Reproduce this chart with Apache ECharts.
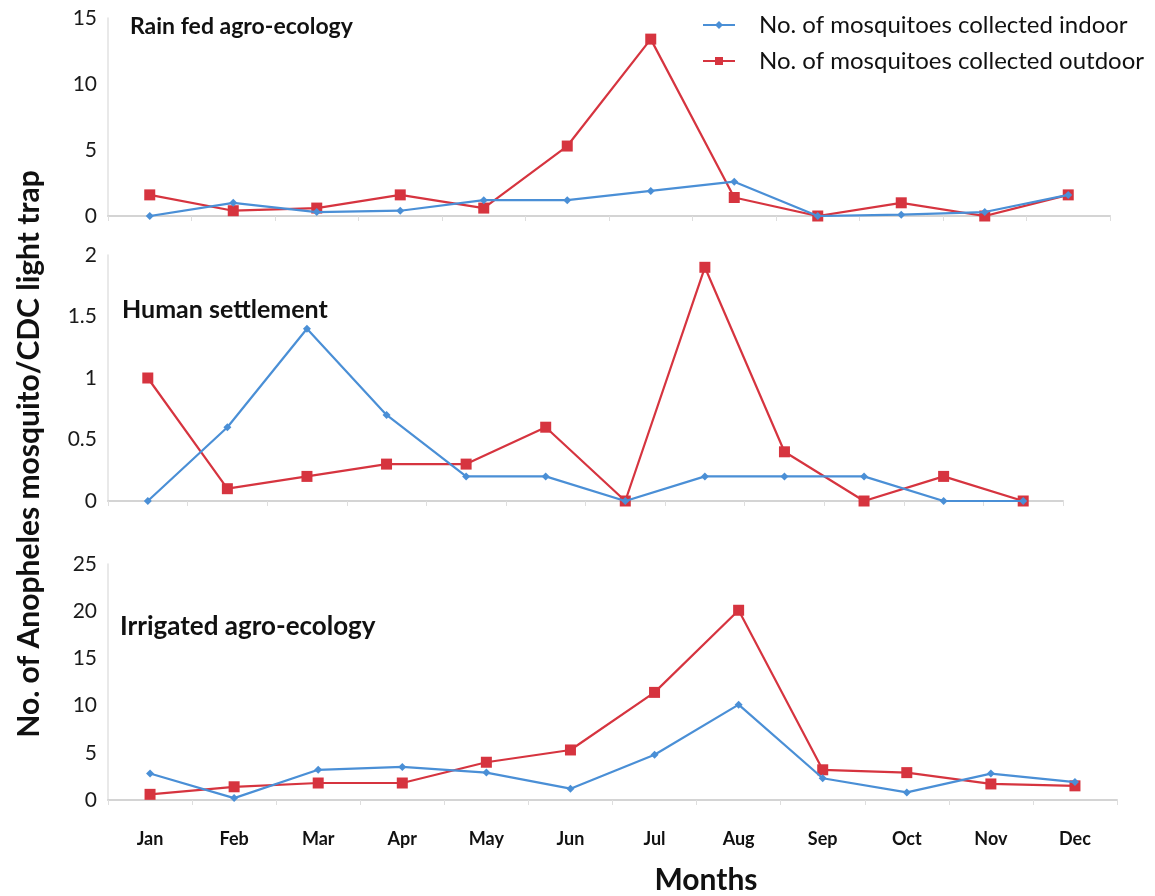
<!DOCTYPE html>
<html>
<head>
<meta charset="utf-8">
<script src="https://cdn.jsdelivr.net/npm/echarts@6/dist/echarts.min.js"></script>
<style>
  html, body { margin: 0; padding: 0; background: #ffffff; }
  #chart { width: 1155px; height: 896px; }
</style>
</head>
<body>
<div id="chart"></div>
<script>
// Monthly mean Anopheles catches per CDC light trap, three settings
const months = ['Jan', 'Feb', 'Mar', 'Apr', 'May', 'Jun', 'Jul', 'Aug', 'Sep', 'Oct', 'Nov', 'Dec'];

const rainIndoor  = [0, 1.0, 0.3, 0.4, 1.2, 1.2, 1.9, 2.6, 0, 0.1, 0.3, 1.6];
const rainOutdoor = [1.6, 0.4, 0.6, 1.6, 0.6, 5.3, 13.4, 1.4, 0, 1.0, 0, 1.6];

const settleIndoor  = [0, 0.6, 1.4, 0.7, 0.2, 0.2, 0, 0.2, 0.2, 0.2, 0, 0];
const settleOutdoor = [1.0, 0.1, 0.2, 0.3, 0.3, 0.6, 0, 1.9, 0.4, 0, 0.2, 0];

const irrigIndoor  = [2.8, 0.2, 3.2, 3.5, 2.9, 1.2, 4.8, 10.1, 2.3, 0.8, 2.8, 1.9];
const irrigOutdoor = [0.6, 1.4, 1.8, 1.8, 4.0, 5.3, 11.4, 20.1, 3.2, 2.9, 1.7, 1.5];

// axis ranges: [min, max, interval]
const rainScale   = [0, 15, 5];
const settleScale = [0, 2, 0.5];
const irrigScale  = [0, 25, 5];

const panelTitles = ['Rain fed agro-ecology', 'Human settlement', 'Irrigated agro-ecology'];
const seriesNames = ['No. of mosquitoes collected indoor', 'No. of mosquitoes collected outdoor'];

const BLUE = '#4a8fd6';
const RED = '#d6343f';
const FONT = 'Lato, "Open Sans", sans-serif';

const grids = [
  { left: 108, top: 18,  width: 1002, height: 198 },
  { left: 108, top: 255, width: 955,  height: 246 },
  { left: 108, top: 564, width: 1009, height: 236 }
];

function xAxisFor(idx, showLabels) {
  return {
    type: 'category',
    gridIndex: idx,
    data: months,
    boundaryGap: true,
    axisLine: { lineStyle: { color: '#d4d4d4', width: 2 } },
    axisTick: { show: true, length: 5, lineStyle: { color: '#dedede' } },
    axisLabel: {
      show: showLabels,
      margin: 30,
      color: '#111',
      fontFamily: FONT,
      fontWeight: 'bold',
      fontSize: 18
    },
    splitLine: { show: false }
  };
}

function yAxisFor(idx, scale) {
  return {
    type: 'value',
    gridIndex: idx,
    min: scale[0],
    max: scale[1],
    interval: scale[2],
    axisLine: { show: true, lineStyle: { color: '#e2e2e2', width: 1.5 } },
    axisTick: { show: false },
    splitLine: { show: false },
    axisLabel: {
      margin: 11,
      color: '#1a1a1a',
      fontFamily: FONT,
      fontSize: 21
    }
  };
}

function lineSeries(name, idx, data, isIndoor) {
  return {
    name: name,
    type: 'line',
    xAxisIndex: idx,
    yAxisIndex: idx,
    data: data,
    symbol: isIndoor ? 'diamond' : 'rect',
    symbolSize: isIndoor ? 8 : 11,
    lineStyle: { color: isIndoor ? BLUE : RED, width: 2.2 },
    itemStyle: { color: isIndoor ? BLUE : RED },
    emphasis: { disabled: true },
    z: isIndoor ? 3 : 2
  };
}

const titleStyle = size => ({ fontFamily: FONT, fontWeight: 'bold', fontSize: size, color: '#111' });

const chart = echarts.init(document.getElementById('chart'), null, { renderer: 'canvas' });

chart.setOption({
  backgroundColor: '#ffffff',
  animation: false,
  title: [
    { text: panelTitles[0], left: 125, top: 10,  textStyle: titleStyle(23) },
    { text: panelTitles[1], left: 117, top: 292, textStyle: titleStyle(25) },
    { text: panelTitles[2], left: 115, top: 609, textStyle: titleStyle(26) }
  ],
  legend: {
    orient: 'vertical',
    left: 697,
    top: 8,
    itemGap: 12,
    itemWidth: 32,
    itemHeight: 10,
    data: seriesNames,
    textStyle: { fontFamily: FONT, fontSize: 24, color: '#111', padding: [0, 0, 0, 19] }
  },
  grid: grids,
  xAxis: [xAxisFor(0, false), xAxisFor(1, false), xAxisFor(2, true)],
  yAxis: [yAxisFor(0, rainScale), yAxisFor(1, settleScale), yAxisFor(2, irrigScale)],
  series: [
    lineSeries(seriesNames[0], 0, rainIndoor, true),
    lineSeries(seriesNames[1], 0, rainOutdoor, false),
    lineSeries(seriesNames[0], 1, settleIndoor, true),
    lineSeries(seriesNames[1], 1, settleOutdoor, false),
    lineSeries(seriesNames[0], 2, irrigIndoor, true),
    lineSeries(seriesNames[1], 2, irrigOutdoor, false)
  ],
  graphic: [
    {
      type: 'text',
      x: 29, y: 454,
      rotation: Math.PI / 2,
      style: {
        text: 'No. of Anopheles mosquito/CDC light trap',
        fontFamily: FONT, fontWeight: 'bold', fontSize: 30, fill: '#111',
        align: 'center', verticalAlign: 'middle'
      }
    },
    {
      type: 'text',
      x: 706, y: 880,
      style: {
        text: 'Months',
        fontFamily: FONT, fontWeight: 'bold', fontSize: 30, fill: '#111',
        align: 'center', verticalAlign: 'middle'
      }
    }
  ]
});
</script>
</body>
</html>
